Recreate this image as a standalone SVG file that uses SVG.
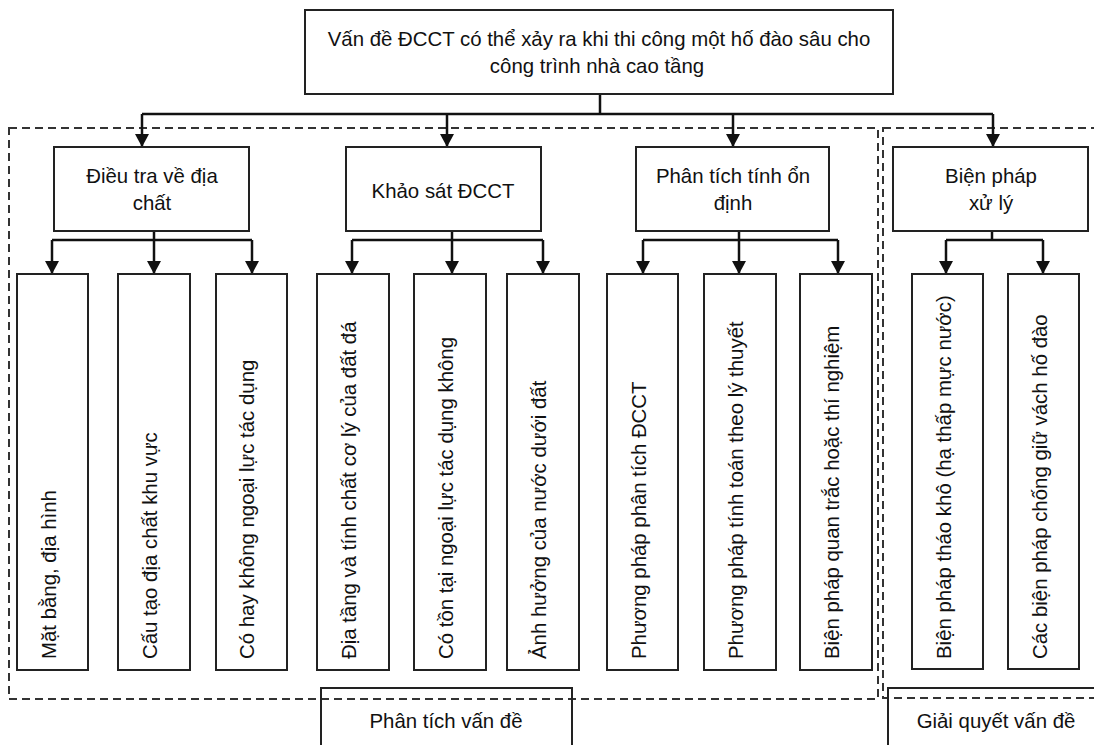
<svg xmlns="http://www.w3.org/2000/svg" width="1094" height="745" viewBox="0 0 1094 745">
<style>
.box{fill:#fff;stroke:#222;stroke-width:2}
.lbl{fill:none;stroke:#222;stroke-width:2}
.frame{fill:none;stroke:#333;stroke-width:2;stroke-dasharray:8 5}
.t{font-family:"Liberation Sans",Arial,sans-serif;font-size:20.4px;fill:#111}
.c{text-anchor:middle}
.con{fill:none;stroke:#111;stroke-width:2.5}
</style>
<defs>
<marker id="ah" viewBox="0 0 14 15" refX="14" refY="7.5" markerWidth="15" markerHeight="14" markerUnits="userSpaceOnUse" orient="auto">
<path d="M0,0 L14,7.5 L0,15 Z" fill="#111"/>
</marker>
</defs>
<rect width="1094" height="745" fill="#fff"/>
<g id="frames">
<rect class="frame" x="9" y="128" width="869" height="571"/>
<rect class="frame" x="883" y="128" width="225" height="570"/>
</g>
<g id="connectors">
<path class="con" d="M600,94 V114" stroke-width="3.5"/>
<path class="con" d="M142,114 H993" stroke-width="2"/>
<path class="con" d="M142,114 V147" marker-end="url(#ah)"/>
<path class="con" d="M447,114 V147" marker-end="url(#ah)"/>
<path class="con" d="M733,114 V147" marker-end="url(#ah)"/>
<path class="con" d="M993,114 V147" marker-end="url(#ah)"/>
<path class="con" d="M154,231 V240 M52,240 H252"/>
<path class="con" d="M52,240 V274" marker-end="url(#ah)"/>
<path class="con" d="M154,240 V274" marker-end="url(#ah)"/>
<path class="con" d="M252,240 V274" marker-end="url(#ah)"/>
<path class="con" d="M452,231 V240 M352,240 H543"/>
<path class="con" d="M352,240 V274" marker-end="url(#ah)"/>
<path class="con" d="M452,240 V274" marker-end="url(#ah)"/>
<path class="con" d="M543,240 V274" marker-end="url(#ah)"/>
<path class="con" d="M739,231 V240 M643,240 H838"/>
<path class="con" d="M643,240 V274" marker-end="url(#ah)"/>
<path class="con" d="M739,240 V274" marker-end="url(#ah)"/>
<path class="con" d="M838,240 V274" marker-end="url(#ah)"/>
<path class="con" d="M992,231 V240 M946,240 H1043"/>
<path class="con" d="M946,240 V274" marker-end="url(#ah)"/>
<path class="con" d="M1043,240 V274" marker-end="url(#ah)"/>
</g>
<g id="root">
<rect class="box" x="305" y="10" width="588" height="84"/>
<text class="t c" x="599" y="46">Vấn đề ĐCCT có thể xảy ra khi thi công một hố đào sâu cho</text>
<text class="t c" x="597" y="73">công trình nhà cao tầng</text>
</g>
<g id="n-dieutra">
<rect class="box" x="54" y="147" width="195" height="84"/>
<text class="t c" x="152" y="183">Điều tra về địa</text>
<text class="t c" x="152" y="210">chất</text>
</g>
<g id="n-khaosat">
<rect class="box" x="346" y="147" width="195" height="84"/>
<text class="t c" x="443" y="198">Khảo sát ĐCCT</text>
</g>
<g id="n-phantich">
<rect class="box" x="636" y="147" width="193" height="84"/>
<text class="t c" x="733" y="183">Phân tích tính ổn</text>
<text class="t c" x="733" y="210">định</text>
</g>
<g id="n-bienphap">
<rect class="box" x="893" y="147" width="195" height="84"/>
<text class="t c" x="991" y="183">Biện pháp</text>
<text class="t c" x="991" y="210">xử lý</text>
</g>
<g id="c1"><rect class="box" x="17" y="274" width="71" height="396"/><text class="t" transform="translate(56,659) rotate(-90)">Mặt bằng, địa hình</text></g>
<g id="c2"><rect class="box" x="118" y="274" width="72" height="396"/><text class="t" transform="translate(157,659) rotate(-90)">Cấu tạo địa chất khu vực</text></g>
<g id="c3"><rect class="box" x="216" y="274" width="71" height="396"/><text class="t" transform="translate(254,659) rotate(-90)">Có hay không ngoại lực tác dụng</text></g>
<g id="c4"><rect class="box" x="317" y="274" width="72" height="396"/><text class="t" transform="translate(356,659) rotate(-90)">Địa tầng và tính chất cơ lý của đất đá</text></g>
<g id="c5"><rect class="box" x="414" y="274" width="72" height="396"/><text class="t" transform="translate(453,659) rotate(-90)">Có tồn tại ngoại lực tác dụng không</text></g>
<g id="c6"><rect class="box" x="507" y="274" width="72" height="396"/><text class="t" transform="translate(546,659) rotate(-90)">Ảnh hưởng của nước dưới đất</text></g>
<g id="c7"><rect class="box" x="607" y="274" width="71" height="396"/><text class="t" transform="translate(646,659) rotate(-90)">Phương pháp phân tích ĐCCT</text></g>
<g id="c8"><rect class="box" x="704" y="274" width="72" height="396"/><text class="t" transform="translate(743,659) rotate(-90)">Phương pháp tính toán theo lý thuyết</text></g>
<g id="c9"><rect class="box" x="800" y="274" width="72" height="396"/><text class="t" transform="translate(839,659) rotate(-90)">Biện pháp quan trắc hoặc thí nghiệm</text></g>
<g id="c10"><rect class="box" x="912" y="274" width="71" height="395"/><text class="t" transform="translate(951,659) rotate(-90)">Biện pháp tháo khô (hạ thấp mực nước)</text></g>
<g id="c11"><rect class="box" x="1008" y="274" width="71" height="395"/><text class="t" transform="translate(1047,659) rotate(-90)">Các biện pháp chống giữ vách hố đào</text></g>
<g id="label-phantich">
<rect class="lbl" x="321" y="688" width="251" height="70"/>
<text class="t c" x="446" y="728">Phân tích vấn đề</text>
</g>
<g id="label-giaiquyet">
<rect class="lbl" x="888" y="688" width="220" height="70"/>
<text class="t c" x="996" y="728">Giải quyết vấn đề</text>
</g>
</svg>
